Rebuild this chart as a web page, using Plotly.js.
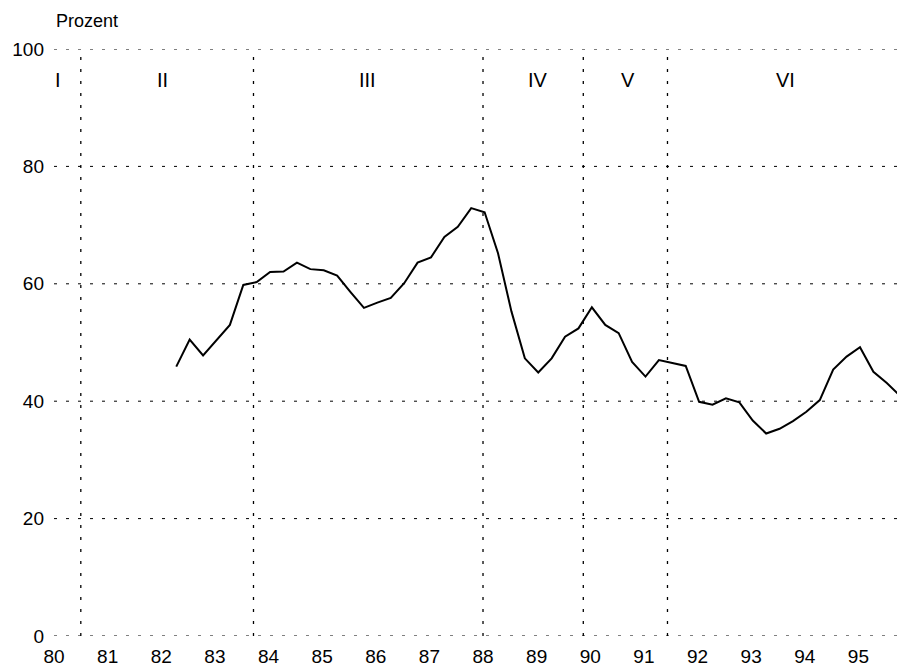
<!DOCTYPE html>
<html>
<head>
<meta charset="utf-8">
<script src="https://cdn.plot.ly/plotly-3.0.1.min.js"></script>
<style>html,body{margin:0;padding:0;background:#fff;}#chart{width:897px;height:666px;}</style>
</head>
<body>
<div id="chart"></div>
<script>
// Quarterly observations (year as decimal, 1900s shorthand)
const quarterX = [
  82.28, 82.53, 82.78, 83.03, 83.28, 83.53, 83.78, 84.03, 84.28, 84.53,
  84.78, 85.03, 85.28, 85.53, 85.78, 86.03, 86.28, 86.53, 86.78, 87.03,
  87.28, 87.53, 87.78, 88.03, 88.28, 88.53, 88.78, 89.03, 89.28, 89.53,
  89.78, 90.03, 90.28, 90.53, 90.78, 91.03, 91.28, 91.53, 91.78, 92.03,
  92.28, 92.53, 92.78, 93.03, 93.28, 93.53, 93.78, 94.03, 94.28, 94.53,
  94.78, 95.03, 95.28, 95.53, 95.78
];
const prozent = [
  45.9, 50.5, 47.8, 50.4, 53.0, 59.8, 60.3, 62.0, 62.1, 63.6,
  62.5, 62.3, 61.4, 58.6, 55.9, 56.8, 57.6, 60.1, 63.6, 64.5,
  68.0, 69.7, 72.9, 72.2, 65.2, 55.3, 47.3, 44.9, 47.3, 51.0,
  52.4, 56.0, 53.0, 51.6, 46.7, 44.2, 47.0, 46.5, 46.0, 39.9,
  39.4, 40.5, 39.8, 36.7, 34.5, 35.3, 36.6, 38.2, 40.2, 45.4,
  47.6, 49.2, 45.0, 43.1, 40.9
];
const yearTicks = [80, 81, 82, 83, 84, 85, 86, 87, 88, 89, 90, 91, 92, 93, 94, 95];
const yearLabels = ['80','81','82','83','84','85','86','87','88','89','90','91','92','93','94','95'];
const valueTicks = [0, 20, 40, 60, 80, 100];
const periodBounds = [80.5, 83.72, 88.0, 89.87, 91.44];
const periodNames = ['I', 'II', 'III', 'IV', 'V', 'VI'];
const periodLabelX = [80.07, 82.03, 85.85, 89.02, 90.7, 93.65];
const periodLabelY = 94.7;

const font = 'Liberation Sans, Arial, Helvetica, sans-serif';
const dotted = '3px,9px';

const shapes = periodBounds.map(b => ({
  type: 'line', xref: 'x', yref: 'y', x0: b, x1: b, y0: 0, y1: 100,
  line: {color: '#000', width: 1.3, dash: dotted}, layer: 'below'
}));
// gridlines (all ticks, including the ones on the plot edges)
valueTicks.forEach(v => shapes.push({
  type: 'line', xref: 'paper', yref: 'y', x0: 0, x1: 1, y0: v, y1: v,
  line: {color: '#000', width: 1, dash: dotted}, layer: 'below'
}));

const annotations = periodNames.map((n, i) => ({
  text: n, xref: 'x', yref: 'y', x: periodLabelX[i], y: periodLabelY,
  showarrow: false, xanchor: 'center', yanchor: 'middle',
  font: {family: font, size: 20, color: '#000'}
}));
annotations.push({
  text: 'Prozent', xref: 'paper', yref: 'paper', x: 0, y: 1.047,
  xanchor: 'left', yanchor: 'middle', showarrow: false,
  font: {family: font, size: 18, color: '#000'}
});

const trace = {
  x: quarterX, y: prozent, type: 'scatter', mode: 'lines',
  line: {color: '#000', width: 2}, hoverinfo: 'skip'
};

const layout = {
  width: 897, height: 666,
  margin: {l: 54, r: 0, t: 49, b: 30, pad: 0},
  paper_bgcolor: '#fff', plot_bgcolor: '#fff',
  showlegend: false,
  font: {family: font, size: 19, color: '#000'},
  xaxis: {
    range: [80, 95.72], tickvals: yearTicks, ticktext: yearLabels,
    showgrid: false, zeroline: false, showline: false, ticks: '',
    ticklabelstandoff: 7,
    tickfont: {family: font, size: 19, color: '#000'}
  },
  yaxis: {
    range: [0, 100], tickvals: valueTicks,
    showgrid: false, zeroline: false, showline: false, ticks: '',
    ticklabelstandoff: 9,
    tickfont: {family: font, size: 19, color: '#000'}
  },
  shapes: shapes,
  annotations: annotations
};

Plotly.newPlot('chart', [trace], layout, {displayModeBar: false, staticPlot: true});
</script>
</body>
</html>
